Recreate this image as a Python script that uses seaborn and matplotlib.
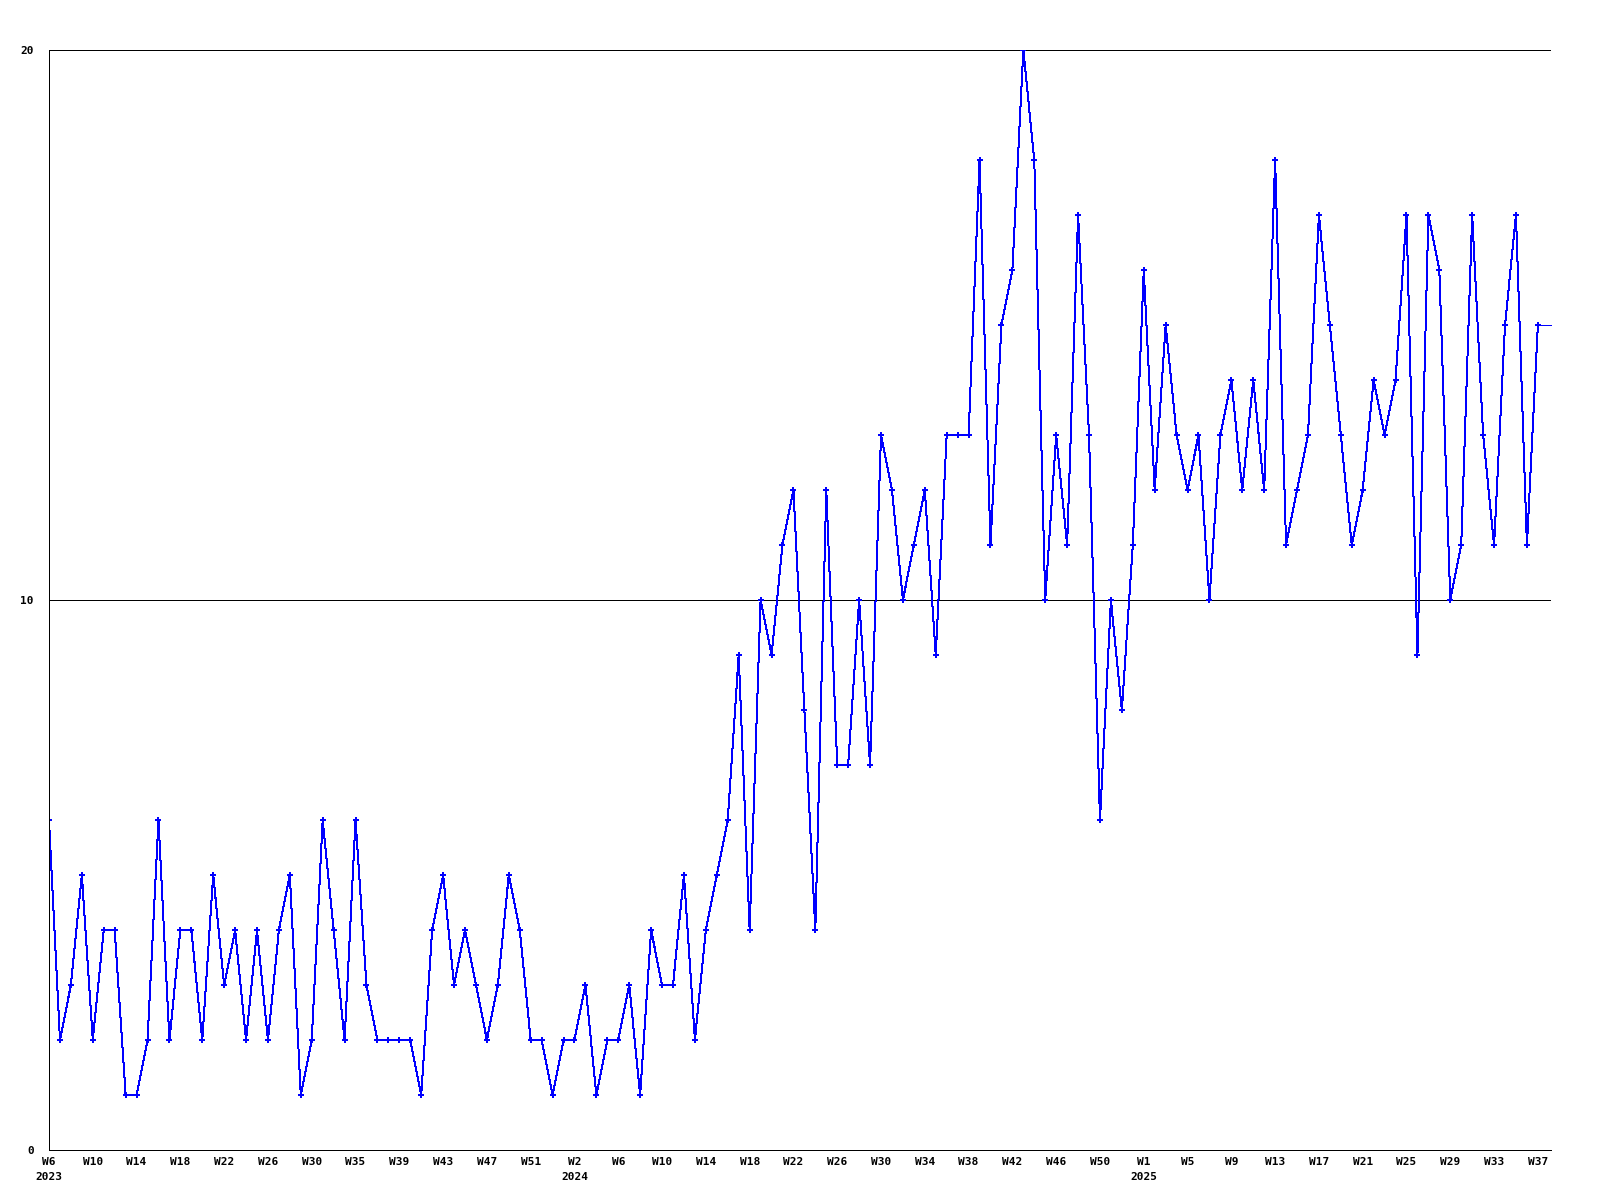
import numpy as np
import matplotlib
matplotlib.use('Agg')
from matplotlib import pyplot as plt
import seaborn as sns

# weekly counts, 2023 W6 .. 2025 W37
values = [6, 2, 3, 5, 2, 4, 4, 1, 1, 2, 6, 2, 4, 4, 2, 5, 3, 4, 2, 4, 2, 4, 5, 1, 2, 6, 4, 2, 6, 3, 2, 2, 2, 2, 1, 4,
          5, 3, 4, 3, 2, 3, 5, 4, 2, 2, 1, 2, 2, 3, 1, 2, 2, 3, 1, 4, 3, 3, 5, 2, 4, 5, 6, 9, 4, 10, 9, 11, 12, 8, 4,
          12, 7, 7, 10, 7, 13, 12, 10, 11, 12, 9, 13, 13, 13, 18, 11, 15, 16, 20, 18, 10, 13, 11, 17, 13, 6, 10, 8,
          11, 16, 12, 15, 13, 12, 13, 10, 13, 14, 12, 14, 12, 18, 11, 12, 13, 17, 15, 13, 11, 12, 14, 13, 14, 17, 9,
          17, 16, 10, 11, 17, 13, 11, 15, 17, 11, 15]

# one label every 4 points
tick_weeks = ['W6', 'W10', 'W14', 'W18', 'W22', 'W26', 'W30', 'W35', 'W39', 'W43', 'W47', 'W51',
              'W2', 'W6', 'W10', 'W14', 'W18', 'W22', 'W26', 'W30', 'W34', 'W38', 'W42', 'W46', 'W50',
              'W1', 'W5', 'W9', 'W13', 'W17', 'W21', 'W25', 'W29', 'W33', 'W37']
tick_years = {0: '2023', 12: '2024', 25: '2025'}
y_ticks = [0, 10, 20]

sns.set_theme(style='white')
plt.rcParams['font.family'] = ['DejaVu Sans Mono']

fig = plt.figure(figsize=(16, 12), dpi=100)
ax = fig.add_axes([49 / 1600, 50 / 1200, 1502 / 1600, 1100 / 1200])

px = 0.72  # one pixel in points at 100 dpi
weeks = np.arange(len(values))
sns.lineplot(x=weeks, y=values, ax=ax, color='#0000ff', linewidth=px,
             marker='P', markersize=4, markeredgewidth=0, antialiased=False)

ax.set_xlim(0, len(values) + 0.2)
ax.set_ylim(0, 20)
# line carries on flat to the right edge
ax.plot([weeks[-1], ax.get_xlim()[1]], [values[-1], values[-1]], color='#0000ff',
        linewidth=px, antialiased=False, clip_on=False)

ax.set_yticks(y_ticks)
ax.set_yticklabels([str(v) for v in y_ticks])
ax.grid(axis='y', color='black', linewidth=px)
ax.grid(axis='x', visible=False)

tick_pos = weeks[::4]
labels = [w + ('\n' + tick_years[i] if i in tick_years else '') for i, w in enumerate(tick_weeks)]
ax.set_xticks(tick_pos)
ax.set_xticklabels(labels, linespacing=1.6)

ax.tick_params(axis='y', length=0, pad=11, labelsize=8)
ax.tick_params(axis='x', length=0, pad=5, labelsize=8)
for lbl in ax.get_xticklabels() + ax.get_yticklabels():
    lbl.set_fontweight('bold')
    lbl.set_color('black')

for side in ['top', 'right']:
    ax.spines[side].set_visible(False)
for side in ['left', 'bottom']:
    ax.spines[side].set_color('black')
    ax.spines[side].set_linewidth(px)

ax.set_xlabel('')
ax.set_ylabel('')
fig.savefig('out.png', dpi=100, facecolor='white')
